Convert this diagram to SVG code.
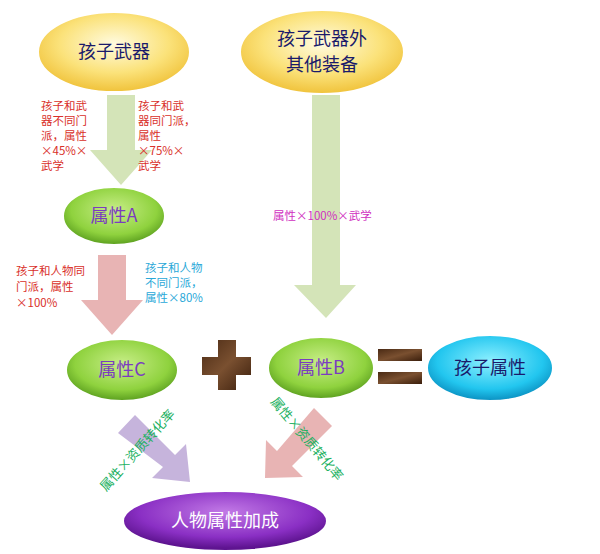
<svg xmlns="http://www.w3.org/2000/svg" width="600" height="554" viewBox="0 0 600 554">
<defs>
<radialGradient id="gy" cx="50%" cy="40%" r="60%"><stop offset="0" stop-color="#fffbe0"/><stop offset="0.6" stop-color="#fbe27a"/><stop offset="1" stop-color="#f0c23a"/></radialGradient>
<radialGradient id="gg" cx="50%" cy="40%" r="60%"><stop offset="0" stop-color="#c8ee88"/><stop offset="0.7" stop-color="#8fd23e"/><stop offset="1" stop-color="#5a9e1e"/></radialGradient>
<radialGradient id="gc" cx="50%" cy="40%" r="60%"><stop offset="0" stop-color="#8ef0ff"/><stop offset="0.7" stop-color="#22c6ef"/><stop offset="1" stop-color="#0a8fc0"/></radialGradient>
<radialGradient id="gp" cx="50%" cy="35%" r="60%"><stop offset="0" stop-color="#c27ae6"/><stop offset="0.7" stop-color="#8a2fc4"/><stop offset="1" stop-color="#5e1490"/></radialGradient>
<linearGradient id="br" x1="0" y1="0" x2="1" y2="1"><stop offset="0" stop-color="#4a2a14"/><stop offset="0.5" stop-color="#7a5030"/><stop offset="1" stop-color="#3a1e0c"/></linearGradient>
<style>
text{font-family:"Noto Sans CJK SC","Liberation Sans",sans-serif}
.t{font-size:18px;fill:#7a3cc0;text-anchor:middle}
.b{font-size:18px;fill:#1a1a6a;text-anchor:middle}
.s{font-size:11.5px}
.r{fill:#d9302a}.bl{fill:#2aa8d8}.m{fill:#d030c0}.g{fill:#20b060;font-size:13px}
.ell{stroke:#fff;stroke-width:2}
</style>
</defs>
<g id="connectors">
<polygon points="107,95 135,95 135,150 152,150 121,185 90,150 107,150" fill="#d4e4b8"/>
<polygon points="312,95 340,95 340,285 356,285 326,318 294,285 312,285" fill="#d4e4b8"/>
<polygon points="98,255 126,255 126,300 143,300 112,335 81,300 98,300" fill="#e8b4b4"/>
<polygon points="118,433 135,415 175,455 186,444 190,482 152,478 163,467" fill="#c6b4dc"/>
<polygon points="314,408 332,426 292,466 303,477 265,478 266,440 277,451" fill="#e8b4b4"/>
</g>
<g id="n1"><ellipse class="ell" cx="114" cy="52" rx="76" ry="40" fill="url(#gy)"/><text class="b" x="114" y="58">孩子武器</text></g>
<g id="n2"><ellipse class="ell" cx="322" cy="52" rx="82" ry="42" fill="url(#gy)"/><text class="b" x="322" y="45">孩子武器外</text><text class="b" x="322" y="71">其他装备</text></g>
<g id="nA"><ellipse class="ell" cx="114" cy="216" rx="51" ry="29" fill="url(#gg)"/><text class="t" x="114" y="222">属性A</text></g>
<g id="nC"><ellipse class="ell" cx="122" cy="370" rx="56" ry="31" fill="url(#gg)"/><text class="t" x="122" y="376">属性C</text></g>
<g id="nB"><ellipse class="ell" cx="321" cy="368" rx="53" ry="31" fill="url(#gg)"/><text class="t" x="321" y="374">属性B</text></g>
<g id="plus"><polygon points="218,340 236,340 236,357 251,357 251,375 236,375 236,390 218,390 218,375 202,375 202,357 218,357" fill="url(#br)"/></g>
<g id="eq"><rect x="378" y="349" width="44" height="12" fill="url(#br)"/><rect x="378" y="372" width="44" height="12" fill="url(#br)"/></g>
<g id="nK"><ellipse class="ell" cx="490" cy="368" rx="63" ry="33" fill="url(#gc)"/><text class="b" x="490" y="374">孩子属性</text></g>
<g id="nP"><ellipse class="ell" cx="225" cy="521" rx="102" ry="30" fill="url(#gp)"/><text x="225" y="527" style="font-size:18px;fill:#fff;text-anchor:middle">人物属性加成</text></g>
<g id="labels">
<text class="s r"><tspan x="41" y="110">孩子和武</tspan><tspan x="41" y="125">器不同门</tspan><tspan x="41" y="140">派，属性</tspan><tspan x="41" y="155">×45%×</tspan><tspan x="41" y="170">武学</tspan></text>
<text class="s r"><tspan x="138" y="110">孩子和武</tspan><tspan x="138" y="125">器同门派，</tspan><tspan x="138" y="140">属性</tspan><tspan x="138" y="155">×75%×</tspan><tspan x="138" y="170">武学</tspan></text>
<text class="s r"><tspan x="16" y="275">孩子和人物同</tspan><tspan x="16" y="291">门派，属性</tspan><tspan x="16" y="307">×100%</tspan></text>
<text class="s bl"><tspan x="145" y="272">孩子和人物</tspan><tspan x="145" y="287">不同门派，</tspan><tspan x="145" y="302">属性×80%</tspan></text>
<text class="s m" x="273" y="220">属性×100%×武学</text>
<text class="g" transform="translate(106,492) rotate(-48)">属性×资质转化率</text>
<text class="g" transform="translate(270,402) rotate(50)">属性×资质转化率</text>
</g>
</svg>
